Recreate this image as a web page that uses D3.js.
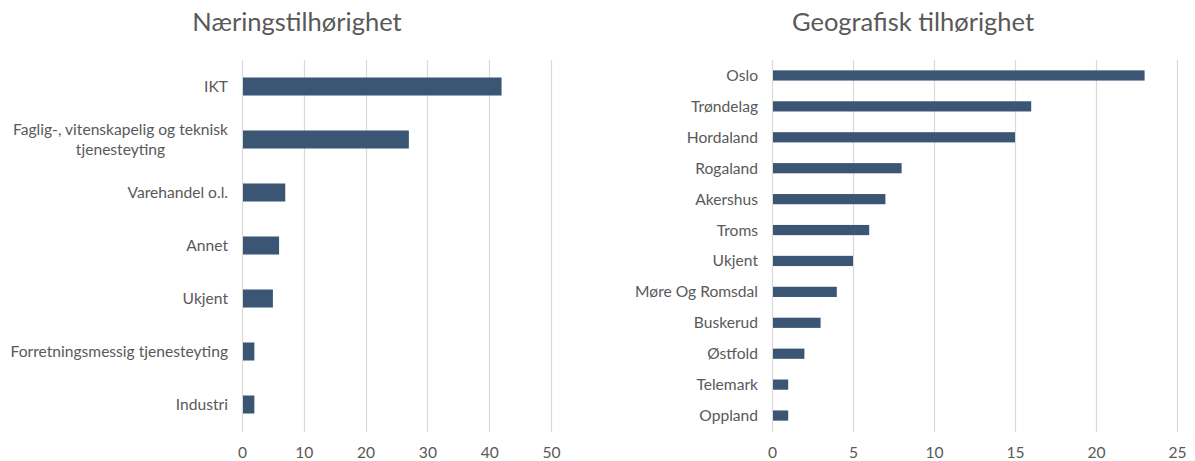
<!DOCTYPE html>
<html>
<head>
<meta charset="utf-8">
<script src="https://cdn.jsdelivr.net/npm/d3@7"></script>
<style>
  html, body { margin: 0; padding: 0; background: #fff; }
  svg { display: block; font-family: Lato, "Open Sans", sans-serif; }
</style>
</head>
<body>
<svg id="chart" width="1195" height="461"></svg>
<script>
// Industry breakdown
const industryCategories = ["IKT", "Faglig-, vitenskapelig og teknisk tjenesteyting", "Varehandel o.l.", "Annet", "Ukjent", "Forretningsmessig tjenesteyting", "Industri"];
const industryValues = [42, 27, 7, 6, 5, 2, 2];
const industryTicks = [0, 10, 20, 30, 40, 50];

// Regional breakdown
const regionCategories = ["Oslo", "Trøndelag", "Hordaland", "Rogaland", "Akershus", "Troms", "Ukjent", "Møre Og Romsdal", "Buskerud", "Østfold", "Telemark", "Oppland"];
const regionValues = [23, 16, 15, 8, 7, 6, 5, 4, 3, 2, 1, 1];
const regionTicks = [0, 5, 10, 15, 20, 25];

const svg = d3.select("#chart");
const textColor = "#595959";
const barColor = "#3a5674";
const gridColor = "#d9d9d9";
const labelSize = "15.6px";

function drawPanel(cfg) {
  const g = svg.append("g");
  const x = d3.scaleLinear().domain([0, cfg.ticks[cfg.ticks.length - 1]]).range([cfg.x0, cfg.x1]);
  const y = d3.scaleBand().domain(cfg.categories).range([60, 431]).paddingInner(cfg.pad).paddingOuter(cfg.pad / 2);

  // title
  g.append("text")
    .attr("x", cfg.titleX).attr("y", 31)
    .attr("text-anchor", "middle")
    .attr("fill", textColor)
    .style("font-size", "25.5px")
    .text(cfg.title);

  // vertical gridlines
  g.selectAll("line.grid").data(cfg.ticks).join("line")
    .attr("class", "grid")
    .attr("x1", d => Math.round(x(d)) + 0.5).attr("x2", d => Math.round(x(d)) + 0.5)
    .attr("y1", 60).attr("y2", 432)
    .attr("stroke", gridColor).attr("stroke-width", 1.2);

  // x tick labels
  const axis = d3.axisBottom(x).tickValues(cfg.ticks).tickSize(0).tickPadding(0);
  const ax = g.append("g").attr("transform", "translate(0,458)").call(axis);
  ax.select(".domain").remove();
  ax.selectAll("text").attr("fill", textColor).style("font-size", labelSize).attr("dy", 0)
    .style("font-family", "Lato, 'Open Sans', sans-serif");

  // bars
  g.selectAll("rect.bar").data(cfg.values).join("rect")
    .attr("class", "bar")
    .attr("x", x(0) + 1)
    .attr("y", (d, i) => y(cfg.categories[i]))
    .attr("width", d => x(d) - x(0) - 1)
    .attr("height", y.bandwidth())
    .attr("fill", barColor);

  // category labels (wrapped where needed, extra lines centred under the first)
  cfg.categories.forEach(c => {
    const lines = (cfg.wrap && cfg.wrap[c]) || [c];
    const cy = y(c) + y.bandwidth() / 2;
    const lh = 20;
    const top = cy - (lines.length - 1) * lh / 2;
    const first = g.append("text")
      .attr("x", cfg.labelX).attr("y", top).attr("dy", "0.35em")
      .attr("text-anchor", "end").attr("fill", textColor)
      .style("font-size", labelSize).text(lines[0]);
    if (lines.length > 1) {
      const w = first.node().getComputedTextLength();
      for (let k = 1; k < lines.length; k++) {
        g.append("text")
          .attr("x", cfg.labelX - w / 2).attr("y", top + k * lh).attr("dy", "0.35em")
          .attr("text-anchor", "middle").attr("fill", textColor)
          .style("font-size", labelSize).text(lines[k]);
      }
    }
  });
}

drawPanel({
  title: "Næringstilhørighet", titleX: 297,
  categories: industryCategories, values: industryValues, ticks: industryTicks,
  x0: 242, x1: 551, labelX: 228, pad: 0.66,
  wrap: { "Faglig-, vitenskapelig og teknisk tjenesteyting": ["Faglig-, vitenskapelig og teknisk", "tjenesteyting"] }
});

drawPanel({
  title: "Geografisk tilhørighet", titleX: 913,
  categories: regionCategories, values: regionValues, ticks: regionTicks,
  x0: 772, x1: 1177, labelX: 758, pad: 0.67
});
</script>
</body>
</html>
